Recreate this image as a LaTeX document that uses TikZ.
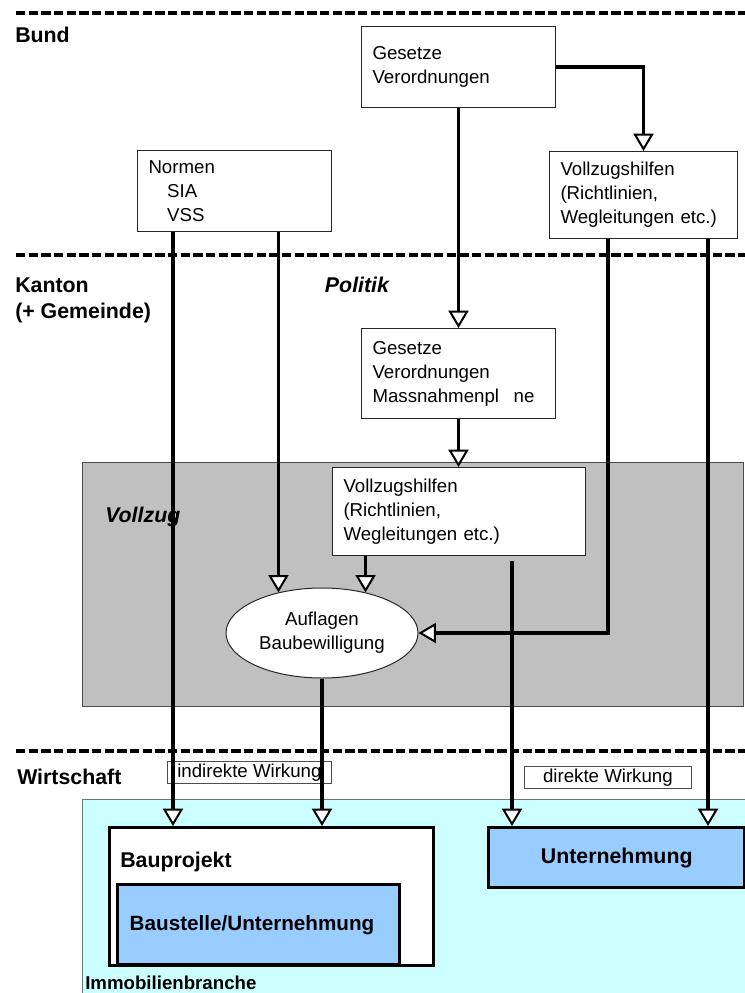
\documentclass[tikz,border=0pt]{standalone}
\usepackage{fontspec}
\setmainfont{Liberation Sans}
\usetikzlibrary{arrows.meta,shapes.geometric}

\definecolor{grau}{HTML}{C0C0C0}
\definecolor{hellcyan}{HTML}{CCFFFF}
\definecolor{hellblau}{HTML}{99CCFF}

\tikzset{
  kasten/.style={draw=black!85, line width=0.75pt, fill=white, anchor=north west,
    align=left, inner xsep=8.25pt, inner ysep=0pt, font=\fontsize{14}{18}\selectfont},
  pfeil/.style={line width=2.8pt,
    -{Triangle[length=13pt,width=15pt,fill=white,line width=1.5pt]}},
  ebene/.style={line width=2.4pt, dash pattern=on 7pt off 2.5pt},
  titel/.style={anchor=west, align=left, inner sep=0pt,
    font=\fontsize{16}{19.5}\selectfont\bfseries},
  wirkung/.style={draw=black!70, line width=0.6pt, fill=white, anchor=north west,
    inner sep=0pt, font=\fontsize{14}{16}\selectfont},
  firma/.style={draw=black, line width=2.6pt, fill=hellblau, anchor=north west,
    inner sep=0pt, font=\fontsize{16}{19}\selectfont\bfseries}
}

\begin{document}
\begin{tikzpicture}[x=0.75pt,y=-0.75pt]
  \useasboundingbox (0,0) rectangle (745,993);
  % Bereiche
  \filldraw[fill=grau, draw=black!70, line width=0.75pt] (82,462) rectangle (743,706);
  \filldraw[fill=hellcyan, draw=black!55, line width=0.75pt] (82,799) rectangle (746,994);
  % Trennlinien
  \draw[ebene] (16,13) -- (745,13);
  \draw[ebene] (16,255) -- (745,255);
  \draw[ebene] (16,751) -- (745,751);

  % Ebenen
  \node[titel] (bund) at (15,35) {Bund};
  \node[titel] (kanton) at (15,300) {Kanton\\(+ Gemeinde)};
  \node[titel, anchor=center, font=\fontsize{16}{19.5}\selectfont\bfseries\itshape] (politik) at (357,285) {Politik};
  \node[titel, font=\fontsize{16}{19.5}\selectfont\bfseries\itshape] (vollzug) at (105,517) {Vollzug};
  \node[titel] (wirtschaft) at (17,777) {Wirtschaft};
  \node[titel, font=\fontsize{14}{17}\selectfont\bfseries] (immo) at (85,983) {Immobilienbranche};

  % Kaesten
  \node[kasten, text width=129pt, minimum height=60.75pt] (g1) at (361,26) {Gesetze\\Verordnungen};
  \node[kasten, text width=124.5pt, minimum height=65.25pt] (v1) at (549,151) {Vollzugshilfen\\(Richtlinien,\\Wegleitungen etc.)};
  \node[kasten, text width=129pt, minimum height=60.75pt] (nor) at (137,150) {Normen\\\hspace*{14pt}SIA\\\hspace*{14pt}VSS};
  \node[kasten, text width=129pt, minimum height=67.5pt] (g2) at (361,328) {Gesetze\\Verordnungen\\Massnahmenpl\hspace{11pt}ne};
  \node[kasten, text width=173.25pt, minimum height=66pt] (v2) at (332,467) {Vollzugshilfen\\(Richtlinien,\\Wegleitungen etc.)};
  \node[ellipse, draw=black!85, line width=0.75pt, fill=white, minimum width=144pt, minimum height=67.5pt,
    inner sep=0pt, align=center, font=\fontsize{14}{18}\selectfont] (auf) at (322,633) {Auflagen\\Baubewilligung};

  \node[wirkung, minimum width=123pt, minimum height=16.5pt] (ind) at (167,761) {indirekte Wirkung};
  \node[wirkung, minimum width=125.25pt, minimum height=16.5pt] (dir) at (524,766) {direkte Wirkung};

  \node[draw=black, line width=2.6pt, fill=white, anchor=north west, minimum width=243pt,
    minimum height=103.5pt, inner sep=0pt] (bau) at (108,826) {};
  \node[titel] (bauprojekt) at (120,862) {Bauprojekt};
  \node[firma, minimum width=211.5pt, minimum height=60pt, text width=193.5pt, inner xsep=9pt,
    align=left, font=\fontsize{15.5}{18}\selectfont\bfseries] (bst) at (116,883) {Baustelle/Unternehmung};
  \node[firma, minimum width=192pt, minimum height=45pt] (unt) at (487,826) {Unternehmung};

  % Spalten
  \coordinate (sA) at (173,0);
  \coordinate (sB) at (608,0);
  \coordinate (sC) at (708,0);
  \coordinate (sD) at (512,0);

  % Wirkungen
  \draw[pfeil] (g1.south) -- (g2.north);
  \draw[pfeil] (g1.east) -| (v1.north);
  \draw[pfeil] (nor.south -| sA) -- (bau.north -| sA);
  \draw[pfeil] (nor.south -| auf.137) -- (auf.137);
  \draw[pfeil] (g2.south) -- (g2.south |- v2.north);
  \draw[pfeil] (v2.south -| auf.43) -- (auf.43);
  \draw[pfeil] (v1.south -| sB) |- (auf.east);
  \draw[pfeil] (v1.south -| sC) -- (unt.north -| sC);
  \draw[pfeil] ([yshift=-4pt]v2.south -| sD) -- (unt.north -| sD);
  \draw[pfeil] (auf.south) -- (bau.north -| auf.south);
\end{tikzpicture}
\end{document}
